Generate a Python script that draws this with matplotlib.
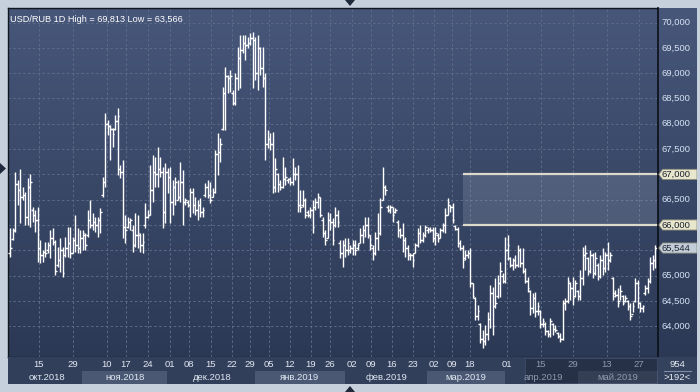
import matplotlib.pyplot as plt
import numpy as np
from matplotlib.colors import LinearSegmentedColormap
from matplotlib.patches import Polygon, Rectangle

plt.rcParams['font.family'] = ['Liberation Sans', 'DejaVu Sans']

# daily USD/RUB bars
high = [65.94, 65.94, 67.05, 66.89, 67.11, 66.75, 66.65, 66.93, 67.01, 66.36,
        66.30, 66.36, 65.70, 65.51, 65.66, 65.66, 65.90, 65.94, 65.70, 65.56,
        65.74, 65.56, 65.76, 65.96, 65.96, 65.76, 66.20, 65.94, 65.90, 65.90,
        65.84, 66.30, 66.49, 66.24, 66.16, 66.16, 66.34, 66.95, 68.21, 68.07,
        67.97, 67.92, 68.17, 68.31, 67.18, 67.28, 66.20, 66.16, 66.14, 66.00,
        66.24, 66.20, 65.84, 65.84, 66.43, 66.30, 67.18, 67.38, 67.34, 67.54,
        67.34, 67.15, 67.22, 67.13, 67.15, 66.89, 66.95, 66.89, 67.24, 67.09,
        66.53, 66.49, 66.73, 66.73, 66.55, 66.49, 66.53, 66.36, 66.83, 66.89,
        66.85, 66.73, 67.48, 67.82, 67.72, 68.73, 69.12, 68.96, 69.06, 68.67,
        69.00, 69.52, 69.75, 69.75, 69.75, 69.71, 69.79, 69.813, 69.71, 69.75,
        69.52, 69.52, 69.00, 67.88, 67.82, 67.84, 67.32, 67.03, 66.89, 67.34,
        67.15, 66.93, 66.95, 67.32, 67.15, 67.18, 66.69, 66.69, 66.53, 66.30,
        66.36, 66.49, 66.53, 66.63, 66.55, 66.16, 65.90, 66.26, 66.24, 66.14,
        66.36, 66.30, 65.70, 65.70, 65.74, 65.74, 65.60, 65.70, 65.70, 65.64,
        65.94, 66.00, 66.16, 66.16, 65.80, 65.60, 65.86, 66.24, 66.53, 67.15,
        66.79, 66.40, 66.40, 66.36, 66.34, 66.10, 65.94, 66.04, 65.76, 65.60,
        65.45, 65.45, 65.64, 65.94, 66.00, 65.86, 66.00, 65.96, 65.96, 65.96,
        65.96, 65.84, 65.94, 66.04, 66.34, 66.53, 66.40, 66.43, 66.00, 65.96,
        65.70, 65.60, 65.51, 65.51, 65.55, 64.85, 64.58, 64.42, 64.06, 63.92,
        64.02, 64.28, 64.81, 64.77, 64.95, 65.01, 65.27, 65.05, 65.76, 65.80,
        65.37, 65.35, 65.41, 65.60, 65.55, 65.55, 65.15, 64.97, 64.72, 64.66,
        64.68, 64.48, 64.32, 64.16, 64.08, 63.92, 64.16, 64.06, 64.02, 63.88,
        63.86, 64.52, 64.56, 64.97, 64.87, 64.97, 64.91, 64.72, 65.11, 65.56,
        65.60, 65.37, 65.51, 65.45, 65.47, 65.25, 65.41, 65.55, 65.47, 65.66,
        65.47, 64.97, 64.72, 64.75, 64.81, 64.62, 64.62, 64.52, 64.46, 64.48,
        64.95, 64.91, 64.48, 64.42, 64.81, 64.95, 65.37, 65.41, 65.60]

low = [65.37, 65.70, 65.86, 66.40, 66.04, 66.49, 66.00, 66.00, 65.96, 66.06,
       65.86, 65.27, 65.25, 65.27, 65.37, 65.45, 65.35, 65.60, 65.01, 65.17,
       65.07, 64.97, 65.37, 65.37, 65.35, 65.45, 65.47, 65.45, 65.45, 65.51,
       65.51, 65.76, 65.94, 65.90, 65.86, 65.76, 65.84, 66.55, 66.75, 67.78,
       67.28, 67.54, 67.88, 66.99, 66.93, 65.74, 65.64, 65.94, 65.90, 65.47,
       65.56, 65.55, 65.47, 65.45, 65.94, 66.14, 66.20, 66.45, 66.75, 66.75,
       66.95, 65.94, 66.04, 66.63, 66.04, 66.20, 66.40, 66.49, 66.45, 66.00,
       66.40, 66.36, 66.16, 66.24, 66.20, 66.10, 66.16, 66.16, 66.55, 66.53,
       66.43, 66.55, 66.63, 66.99, 67.24, 67.88, 67.88, 68.61, 68.63, 68.37,
       68.37, 68.67, 68.71, 69.40, 69.26, 69.50, 69.56, 68.71, 68.86, 68.67,
       68.96, 68.73, 67.28, 67.52, 67.48, 66.63, 66.65, 66.65, 66.69, 66.73,
       66.79, 66.83, 66.79, 66.79, 66.89, 66.26, 66.26, 66.36, 66.14, 66.16,
       66.14, 65.84, 66.30, 66.34, 66.16, 65.76, 65.60, 65.74, 65.90, 65.60,
       65.96, 65.96, 65.35, 65.17, 65.37, 65.41, 65.45, 65.41, 65.41, 65.51,
       65.64, 65.64, 65.76, 65.74, 65.51, 65.31, 65.41, 65.51, 65.80, 66.49,
       66.59, 66.26, 66.24, 66.06, 66.24, 65.76, 65.74, 65.47, 65.37, 65.31,
       65.31, 65.17, 65.45, 65.56, 65.64, 65.66, 65.76, 65.84, 65.86, 65.66,
       65.60, 65.66, 65.74, 65.86, 65.84, 66.20, 66.26, 66.04, 65.90, 65.56,
       65.51, 65.15, 65.31, 65.35, 64.77, 64.56, 64.12, 64.12, 63.67, 63.566,
       63.63, 63.73, 63.96, 63.83, 64.36, 64.56, 64.58, 64.85, 64.85, 65.31,
       65.17, 65.11, 65.15, 65.17, 65.17, 65.05, 64.85, 64.68, 64.22, 64.26,
       64.18, 64.22, 63.96, 63.98, 63.83, 63.79, 63.79, 63.83, 63.88, 63.77,
       63.69, 63.73, 64.32, 64.46, 64.52, 64.42, 64.58, 64.52, 64.52, 64.81,
       65.11, 65.01, 65.05, 64.95, 65.01, 64.91, 64.95, 65.01, 65.07, 65.11,
       65.27, 64.52, 64.58, 64.38, 64.52, 64.42, 64.48, 64.32, 64.12, 64.28,
       64.48, 64.36, 64.28, 64.28, 64.62, 64.66, 64.85, 65.11, 65.15]

opn = [65.45, 65.72, 65.90, 66.80, 66.70, 66.55, 66.60, 66.15, 66.75, 66.30,
       66.20, 66.10, 65.55, 65.40, 65.47, 65.50, 65.60, 65.75, 65.66, 65.20,
       65.30, 65.50, 65.40, 65.55, 65.65, 65.45, 65.70, 65.60, 65.55, 65.75,
       65.80, 65.80, 66.10, 66.00, 66.05, 66.00, 66.10, 66.60, 66.85, 68.00,
       67.95, 67.90, 67.90, 68.05, 67.10, 67.05, 65.95, 65.95, 66.05, 65.90,
       65.60, 65.80, 65.80, 65.60, 66.00, 66.15, 66.20, 66.70, 67.05, 67.00,
       67.10, 67.05, 66.25, 67.05, 66.95, 66.45, 66.75, 66.50, 66.55, 66.85,
       66.45, 66.45, 66.40, 66.65, 66.40, 66.30, 66.40, 66.25, 66.60, 66.75,
       66.60, 66.55, 66.65, 67.40, 67.45, 67.90, 68.60, 68.95, 68.90, 68.60,
       68.40, 68.90, 69.30, 69.45, 69.60, 69.55, 69.60, 69.70, 69.65, 69.00,
       69.50, 69.10, 68.90, 67.60, 67.70, 67.60, 66.75, 67.00, 66.80, 66.75,
       66.90, 66.88, 66.90, 66.85, 67.00, 67.00, 66.40, 66.40, 66.50, 66.25,
       66.20, 66.30, 66.35, 66.45, 66.55, 66.10, 65.85, 65.75, 66.10, 66.05,
       66.00, 66.20, 65.65, 65.45, 65.60, 65.50, 65.50, 65.55, 65.60, 65.55,
       65.65, 65.80, 65.90, 66.00, 65.80, 65.55, 65.45, 65.75, 65.85, 66.50,
       66.75, 66.35, 66.30, 66.35, 66.25, 66.05, 65.90, 65.80, 65.70, 65.55,
       65.40, 65.40, 65.45, 65.60, 65.85, 65.70, 65.80, 65.90, 65.92, 65.90,
       65.75, 65.80, 65.75, 65.90, 66.00, 66.20, 66.40, 66.35, 65.98, 65.92,
       65.65, 65.55, 65.35, 65.40, 65.45, 64.85, 64.55, 64.20, 64.05, 63.75,
       63.70, 63.85, 64.15, 64.65, 64.40, 64.60, 64.85, 65.00, 64.90, 65.50,
       65.35, 65.20, 65.30, 65.20, 65.50, 65.25, 65.10, 64.90, 64.70, 64.35,
       64.55, 64.30, 64.30, 64.05, 64.05, 63.90, 63.85, 64.05, 63.95, 63.86,
       63.80, 63.75, 64.45, 64.50, 64.85, 64.75, 64.60, 64.70, 64.60, 64.95,
       65.40, 65.35, 65.10, 65.40, 65.05, 65.20, 65.00, 65.30, 65.15, 65.40,
       65.30, 64.95, 64.65, 64.62, 64.50, 64.60, 64.50, 64.50, 64.40, 64.25,
       64.50, 64.85, 64.45, 64.35, 64.65, 64.75, 64.90, 65.25, 65.30]

close = [65.55, 65.88, 66.80, 66.70, 66.55, 66.60, 66.15, 66.75, 66.85, 66.20,
         66.10, 65.55, 65.40, 65.47, 65.45, 65.60, 65.75, 65.66, 65.10, 65.30,
         65.50, 65.05, 65.55, 65.65, 65.45, 65.70, 65.60, 65.55, 65.75, 65.85,
         65.60, 66.10, 66.00, 66.05, 66.00, 66.10, 66.25, 66.85, 68.00, 67.95,
         67.90, 67.80, 68.05, 68.15, 67.05, 65.95, 65.90, 66.05, 66.10, 65.60,
         65.80, 65.85, 65.60, 65.66, 66.15, 66.20, 66.70, 67.05, 67.00, 67.10,
         67.05, 66.25, 67.05, 66.95, 66.45, 66.75, 66.85, 66.55, 66.85, 66.45,
         66.50, 66.40, 66.65, 66.40, 66.30, 66.40, 66.25, 66.30, 66.75, 66.60,
         66.50, 66.65, 67.40, 67.45, 67.60, 68.60, 68.95, 68.90, 68.95, 68.40,
         68.90, 69.30, 69.45, 69.60, 69.55, 69.60, 69.70, 69.65, 69.00, 69.50,
         69.10, 68.90, 67.60, 67.70, 67.60, 66.75, 67.10, 66.80, 66.75, 66.90,
         66.95, 66.90, 66.85, 67.00, 67.00, 66.40, 66.35, 66.50, 66.20, 66.20,
         66.30, 65.95, 66.45, 66.55, 66.20, 65.85, 65.70, 66.10, 66.05, 65.70,
         66.20, 66.05, 65.45, 65.60, 65.50, 65.65, 65.55, 65.60, 65.50, 65.60,
         65.80, 65.90, 66.00, 65.80, 65.60, 65.45, 65.75, 65.85, 66.35, 66.75,
         66.70, 66.30, 66.35, 66.20, 66.30, 65.90, 65.80, 65.70, 65.55, 65.45,
         65.40, 65.30, 65.60, 65.85, 65.70, 65.80, 65.95, 65.92, 65.90, 65.75,
         65.85, 65.75, 65.90, 66.00, 66.20, 66.45, 66.35, 66.10, 65.92, 65.65,
         65.55, 65.30, 65.40, 65.45, 64.85, 64.60, 64.20, 64.30, 63.75, 63.70,
         63.85, 64.15, 64.65, 64.00, 64.45, 64.85, 65.10, 64.90, 65.50, 65.60,
         65.20, 65.30, 65.20, 65.50, 65.25, 65.10, 64.90, 64.75, 64.35, 64.55,
         64.30, 64.40, 64.05, 64.10, 63.90, 63.85, 64.10, 63.95, 63.92, 63.80,
         63.75, 64.45, 64.50, 64.90, 64.75, 64.55, 64.85, 64.60, 64.95, 65.40,
         65.45, 65.10, 65.40, 65.05, 65.35, 65.00, 65.30, 65.15, 65.40, 65.30,
         65.40, 64.60, 64.62, 64.45, 64.70, 64.45, 64.55, 64.40, 64.20, 64.40,
         64.85, 64.45, 64.35, 64.40, 64.75, 64.90, 65.25, 65.30, 65.544]

# x axis labels (positions are bar numbers)
day_pos = [11.6, 25.2, 38.8, 46.4, 55.2, 64, 71.6, 80.4, 88.8, 96, 103.6, 112,
           120.4, 128, 136.6, 144.4, 152.8, 161.2, 169.6, 176.8, 184, 198.8,
           212.4, 225.2, 238.8, 251.6]
day_labels = ['15', '29', '10', '17', '24', '01', '08', '15', '22', '29', '05',
              '12', '19', '26', '02', '09', '16', '23', '02', '09', '18', '01',
              '15', '29', '13', '27']
month_labels = ['окт.2018', 'ноя.2018', 'дек.2018', 'янв.2019', 'фев.2019',
                'мар.2019', 'апр.2019', 'май.2019']
month_pos = [14.8, 46, 80.8, 116, 150.8, 182.4, 213.2, 243.2]
month_edges = [-0.8, 28.8, 62.8, 98, 134, 166.8, 198, 227.2, 259.2]

price_levels = np.arange(64.0, 70.01, 0.5)
zone_low, zone_high, zone_start = 66.0, 67.0, 181
last_price = close[-1]

def fmt(v):
    return f'{v:.3f}'.replace('.', ',')

W, H = 700, 392
fig = plt.figure(figsize=(7, 3.92), dpi=100, facecolor='#c6d0dd')
xlim = (-0.8, 259.2)
ylim = (63.391, 70.287)
bg = LinearSegmentedColormap.from_list('bg', ['#2c3955', '#47577a'])
grad = np.linspace(0, 1, 256).reshape(-1, 1)

ax = fig.add_axes([8 / W, 1 - 357 / H, 650 / W, 349 / H])
ax.imshow(grad, extent=[0, 1, 0, 1], transform=ax.transAxes, cmap=bg,
          aspect='auto', origin='lower', zorder=0)
x = np.arange(len(high))
ax.vlines(x, low, high, color='white', lw=1.0, zorder=4)
ax.hlines(opn, x - 0.75, x, color='white', lw=1.0, zorder=4)
ax.hlines(close, x, x + 0.75, color='white', lw=1.0, zorder=4)
ax.add_patch(Rectangle((zone_start, zone_low), xlim[1] - zone_start,
                       zone_high - zone_low, fc='#a8b2c6', alpha=0.22,
                       ec='none', zorder=2))
ax.hlines([zone_low, zone_high], zone_start, xlim[1], color='#dcdacb',
          lw=1.6, zorder=3)
ax.set_xlim(xlim)
ax.set_ylim(ylim)
ax.set_xticks(day_pos)
ax.set_yticks(price_levels)
ax.grid(True, color='#5c6b88', ls=(0, (2.5, 2.5)), lw=0.7, zorder=1)
ax.tick_params(length=0, labelleft=False, labelbottom=False)
for s in ax.spines.values():
    s.set_color('#11171f')
    s.set_linewidth(1.0)
ax.text(0.003, 0.98, 'USD/RUB 1D High = ' + fmt(max(high)) + ' Low = ' + fmt(min(low)),
        transform=ax.transAxes, color='white', fontsize=6.6, va='top', ha='left')

# right price scale
axr = fig.add_axes([658 / W, 1 - 357 / H, 39 / W, 349 / H])
axr.imshow(grad, extent=[0, 1, 0, 1], transform=axr.transAxes, cmap=bg,
           aspect='auto', origin='lower', zorder=0)
axr.set_xlim(0, 1)
axr.set_ylim(ylim)
axr.set_xticks([])
axr.set_yticks([])
for k, s in axr.spines.items():
    s.set_visible(k == 'left')
axr.spines['left'].set_color('#0c1118')
axr.spines['left'].set_linewidth(1.2)
for v in price_levels:
    # levels covered by a price tag are not drawn
    if v in (zone_low, zone_high) or abs(v - last_price) < 0.2:
        continue
    axr.text(0.1, v, fmt(v), color='#d6e2f3', fontsize=6.8, va='center', ha='left')

def tag(v, fc):
    h = 0.1
    pts = [(0.02, v), (0.12, v + h), (1.0, v + h), (1.0, v - h), (0.12, v - h)]
    axr.add_patch(Polygon(pts, closed=True, fc=fc, ec='#8e8e7a', lw=0.6, zorder=3))
    axr.text(0.1, v, fmt(v), color='#1c2230', fontsize=6.8, va='center',
             ha='left', zorder=4)

tag(zone_high, '#e8e6cc')
tag(zone_low, '#e8e6cc')
tag(last_price, '#c3ccd9')

# date axis
axb = fig.add_axes([8 / W, 1 - 384 / H, 650 / W, 27 / H], facecolor='#323f5b')
axb.set_xlim(xlim)
axb.set_ylim(0, 1)
axb.set_xticks([])
axb.set_yticks([])
for s in axb.spines.values():
    s.set_visible(False)
for i in range(len(month_labels)):
    if i % 2 == 1:
        axb.axvspan(month_edges[i], month_edges[i + 1], 0, 0.5,
                    color='#4a5874', lw=0)
axb.add_patch(Rectangle((206, 0.04), xlim[1] - 206.3, 0.92, fc='#141b2a',
                        alpha=0.4, ec='#56647f', lw=0.8))
for p, t in zip(day_pos, day_labels):
    c = '#8d99ad' if p > 206 else '#e2e8f1'
    axb.text(p, 0.74, t, color=c, fontsize=6.8, ha='center', va='center')
for p, t in zip(month_pos, month_labels):
    c = '#8d99ad' if p > 206 else '#e2e8f1'
    axb.text(p, 0.25, t, color=c, fontsize=6.8, ha='center', va='center')

# corner box
axc = fig.add_axes([658 / W, 1 - 384 / H, 39 / W, 27 / H], facecolor='#34425e')
axc.set_xticks([])
axc.set_yticks([])
for s in axc.spines.values():
    s.set_visible(False)
axc.text(0.5, 0.74, '954', color='#e8edf4', fontsize=6.8, ha='center', va='center')
axc.text(0.5, 0.25, '>192<', color='#e8edf4', fontsize=6.8, ha='center', va='center')
axc.plot([0.15, 0.85], [0.5, 0.5], color='#7f8ea6', lw=0.8)
axc.set_xlim(0, 1)
axc.set_ylim(0, 1)

# small scroll arrows in the frame
for pts in ([(345, 0), (355, 0), (350, 6)],
            [(345, 392), (355, 392), (350, 386)],
            [(0, 163), (0, 174), (6, 168.5)]):
    fig.patches.append(Polygon([(a / W, 1 - b / H) for a, b in pts],
                               closed=True, transform=fig.transFigure,
                               fc='#1e2a3b', ec='none'))

fig.savefig('out.png', dpi=100, facecolor=fig.get_facecolor())
